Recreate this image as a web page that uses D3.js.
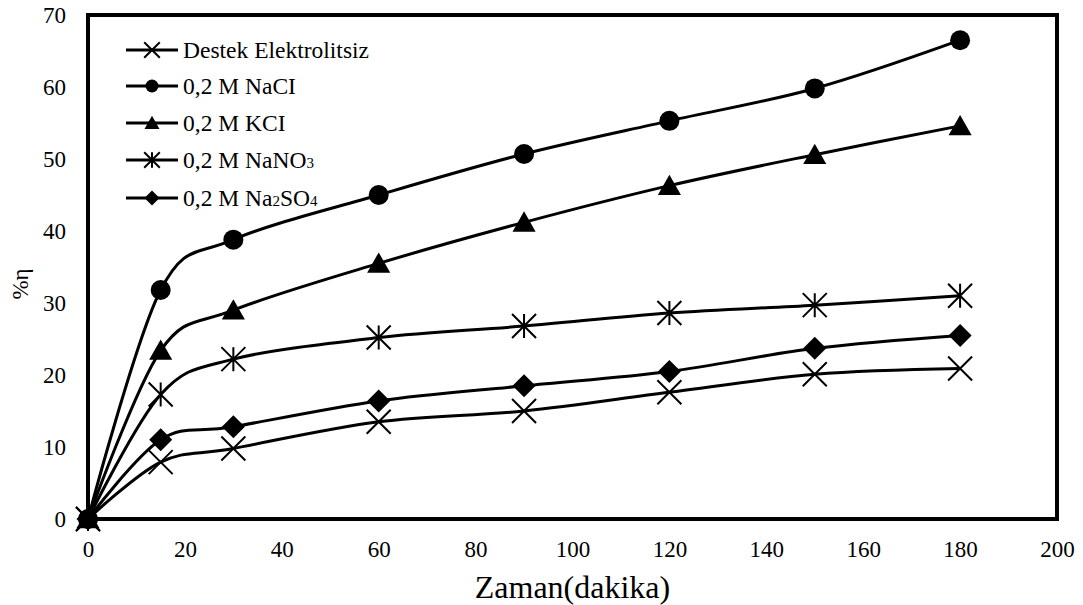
<!DOCTYPE html>
<html>
<head>
<meta charset="utf-8">
<script src="https://cdn.jsdelivr.net/npm/d3@7"></script>
<style>
  body { margin: 0; background: #fff; }
  svg text { font-family: "Liberation Serif", "Times New Roman", serif !important; fill: #000; }
</style>
</head>
<body>
<svg id="chart" width="1083" height="605" font-family="Liberation Serif"></svg>
<script>
// time points (dakika)
const times = [0, 15, 30, 60, 90, 120, 150, 180];

// %η values per electrolyte
const destek = [0, 7.9, 9.8, 13.5, 15.0, 17.6, 20.1, 20.9];
const nacl = [0, 31.8, 38.8, 45.0, 50.7, 55.3, 59.8, 66.5];
const kcl = [0, 23.4, 29.0, 35.5, 41.2, 46.3, 50.6, 54.6];
const nano3 = [0, 17.3, 22.2, 25.2, 26.8, 28.6, 29.7, 31.0];
const na2so4 = [0, 11.0, 12.8, 16.4, 18.5, 20.5, 23.7, 25.5];

const xTicks = [0, 20, 40, 60, 80, 100, 120, 140, 160, 180, 200];
const yTicks = [0, 10, 20, 30, 40, 50, 60, 70];

// legend labels: [text, subscript, text, subscript]
const series = [
  { name: ["Destek Elektrolitsiz"], values: destek, marker: "x" },
  { name: ["0,2 M NaCI"], values: nacl, marker: "circle" },
  { name: ["0,2 M KCI"], values: kcl, marker: "triangle" },
  { name: ["0,2 M NaNO", "3"], values: nano3, marker: "star" },
  { name: ["0,2 M Na", "2", "SO", "4"], values: na2so4, marker: "diamond" }
];

const svg = d3.select("#chart");
const serif = "'Liberation Serif', 'Times New Roman', serif";
const plotL = 88, plotR = 1057, plotT = 15, plotB = 519;

const x = d3.scaleLinear().domain([0, 200]).range([plotL, plotR]);
const y = d3.scaleLinear().domain([0, 70]).range([plotB, plotT]);

// axes (labels only, no tick marks)
const xAxis = svg.append("g")
  .attr("transform", `translate(0,${plotB})`)
  .call(d3.axisBottom(x).tickValues(xTicks).tickSize(0).tickPadding(22));
xAxis.attr("font-family", null).attr("font-size", null);
xAxis.select(".domain").remove();
xAxis.selectAll("text").style("font-size", "23px").style("font-family", serif);

const yAxis = svg.append("g")
  .attr("transform", `translate(${plotL},0)`)
  .call(d3.axisLeft(y).tickValues(yTicks).tickSize(0).tickPadding(22));
yAxis.attr("font-family", null).attr("font-size", null);
yAxis.select(".domain").remove();
yAxis.selectAll("text").style("font-size", "23px").style("font-family", serif);

// axis titles
svg.append("text")
  .attr("x", (plotL + plotR) / 2)
  .attr("y", 598)
  .attr("text-anchor", "middle")
  .style("font-family", serif)
  .style("font-size", "32px")
  .text("Zaman(dakika)");

svg.append("text")
  .attr("transform", "translate(28,284) rotate(-90)")
  .attr("text-anchor", "middle")
  .style("font-family", serif)
  .style("font-size", "23px")
  .text("%η");

// marker drawing
function drawMarker(g, type, cx, cy, s) {
  if (type === "circle") {
    g.append("circle").attr("cx", cx).attr("cy", cy).attr("r", 10 * s).attr("fill", "#000");
  } else if (type === "triangle") {
    const h = 11 * s;
    g.append("path")
      .attr("d", `M${cx},${cy - h} L${cx + h * 1.05},${cy + h * 0.85} L${cx - h * 1.05},${cy + h * 0.85}Z`)
      .attr("fill", "#000");
  } else if (type === "diamond") {
    const h = 11.5 * s;
    g.append("path")
      .attr("d", `M${cx},${cy - h} L${cx + h},${cy} L${cx},${cy + h} L${cx - h},${cy}Z`)
      .attr("fill", "#000");
  } else if (type === "x") {
    const h = 12 * s;
    g.append("path")
      .attr("d", `M${cx - h},${cy - h} L${cx + h},${cy + h} M${cx - h},${cy + h} L${cx + h},${cy - h}`)
      .attr("stroke", "#000").attr("stroke-width", 2).attr("fill", "none");
  } else if (type === "star") {
    const h = 12 * s;
    g.append("path")
      .attr("d", `M${cx - h},${cy - h} L${cx + h},${cy + h} M${cx - h},${cy + h} L${cx + h},${cy - h} M${cx},${cy - h} L${cx},${cy + h}`)
      .attr("stroke", "#000").attr("stroke-width", 2).attr("fill", "none");
  }
}

const line = d3.line()
  .x(d => x(d[0]))
  .y(d => y(d[1]))
  .curve(d3.curveCardinal.tension(0));

const plot = svg.append("g");

series.forEach(s => {
  const pts = times.map((t, i) => [t, s.values[i]]);
  plot.append("path")
    .attr("d", line(pts))
    .attr("fill", "none")
    .attr("stroke", "#000")
    .attr("stroke-width", 3);
});

series.forEach(s => {
  times.forEach((t, i) => drawMarker(plot, s.marker, x(t), y(s.values[i]), 1));
});

// plot area border
svg.append("rect")
  .attr("x", plotL).attr("y", plotT)
  .attr("width", plotR - plotL).attr("height", plotB - plotT)
  .attr("fill", "none")
  .attr("stroke", "#000")
  .attr("stroke-width", 4);

// legend
const legend = svg.append("g");
const legendY = [50, 86, 123, 160, 198];
series.forEach((s, i) => {
  const ly = legendY[i];
  legend.append("line")
    .attr("x1", 126).attr("x2", 178)
    .attr("y1", ly).attr("y2", ly)
    .attr("stroke", "#000").attr("stroke-width", 3);
  drawMarker(legend, s.marker, 152, ly, 0.65);
  const t = legend.append("text")
    .attr("x", 183).attr("y", ly + 8)
    .style("font-family", serif)
    .style("font-size", "23.5px");
  s.name.forEach((part, j) => {
    if (j % 2 === 0) {
      t.append("tspan").text(part);
    } else {
      t.append("tspan").style("font-size", "15px").text(part);
    }
  });
});
</script>
</body>
</html>
